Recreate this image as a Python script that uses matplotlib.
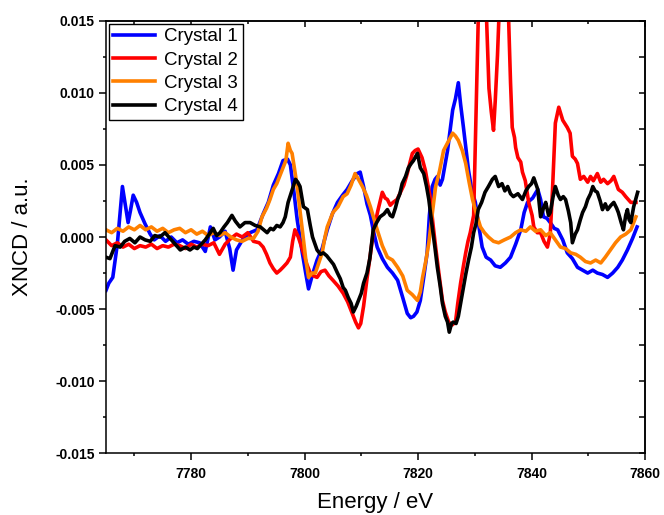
import numpy as np
import matplotlib
matplotlib.use("Agg")
import matplotlib.pyplot as plt
from matplotlib.ticker import MultipleLocator, FormatStrFormatter

plt.rcParams['font.family'] = ['Liberation Sans', 'DejaVu Sans']

# XNCD values are stored in units of 1e-3
c1_e = [7765, 7765.5, 7766.2, 7767, 7767.9, 7768.5, 7768.9, 7769.3, 7769.8, 7770.4,
        7771, 7771.9, 7772.8, 7773.5, 7774.5, 7775.5, 7776.5, 7777.5, 7778.5, 7779.5,
        7780.5, 7781.5, 7782.5, 7783.4, 7784.2, 7785, 7786, 7786.8, 7787.4, 7788,
        7789.2, 7790.4, 7791.6, 7792.7, 7793.6, 7794.5, 7795.4, 7796.2, 7797, 7797.5,
        7798.1, 7798.7, 7799.6, 7800.2, 7800.7, 7801.4, 7802.2, 7803.1, 7804, 7804.9,
        7805.8, 7806.7, 7807.5, 7808.4, 7809.3, 7809.8, 7810.4, 7811, 7811.6, 7812.2,
        7812.8, 7813.7, 7814.6, 7815.5, 7816.4, 7817.3, 7818.1, 7818.7, 7819.2, 7819.8,
        7820.4, 7821, 7821.6, 7822, 7822.5, 7823, 7823.4, 7823.9, 7824.3, 7825.2,
        7826.1, 7826.6, 7827.1, 7827.5, 7828, 7828.9, 7829.5, 7830.1, 7830.7, 7831.3,
        7832, 7832.8, 7833.6, 7834.5, 7835.4, 7836.3, 7837.2, 7838.1, 7838.7, 7839.3,
        7840.2, 7841.1, 7841.6, 7842.1, 7842.7, 7843.3, 7844, 7844.6, 7845.5, 7846.3,
        7847.2, 7848.1, 7849, 7849.9, 7850.8, 7851.6, 7852.5, 7853.4, 7854.3, 7855.2,
        7856, 7856.9, 7857.8, 7858.6]
c1_v = [-3.7, -3.2, -2.8, -0.5, 3.5, 2.0, 1.0, 1.8, 2.9, 2.4,
        1.7, 0.9, 0.2, -0.2, 0.1, -0.3, 0.0, -0.4, -0.2, -0.5,
        -0.3, -0.4, -1.0, 0.7, -0.2, 0.0, 0.4, -0.8, -2.3, -0.9,
        -0.1, 0.3, 0.5, 1.6, 2.4, 3.6, 4.4, 5.3, 5.4, 5.0,
        3.2, 1.2, -1.1, -2.5, -3.6, -2.6, -1.6, -0.8, 0.5, 1.6,
        2.4, 2.9, 3.3, 3.9, 4.4, 4.5, 3.5, 2.3, 1.5, 0.3,
        -0.7, -1.5, -2.1, -2.5, -3.0, -4.2, -5.3, -5.6, -5.5, -5.2,
        -4.4, -2.8, -1.1, 1.5, 3.5, 4.0, 4.2, 3.6, 4.0, 6.0,
        8.8, 9.6, 10.7, 9.2, 7.6, 4.6, 3.2, 2.4, 0.8, -0.7,
        -1.4, -1.6, -2.0, -2.1, -1.8, -1.4, -0.5, 0.5, 1.7, 2.4,
        2.7, 3.3, 2.6, 1.4, 1.3, 1.0, 0.6, 0.5, -0.2, -1.1,
        -1.5, -2.1, -2.3, -2.5, -2.3, -2.5, -2.6, -2.8, -2.5, -2.1,
        -1.6, -0.9, -0.1, 0.7]

c2_e = [7765, 7766, 7767, 7768, 7769, 7770, 7771, 7772, 7773, 7774,
        7775, 7776, 7777, 7778, 7779, 7780, 7781, 7782, 7783, 7784,
        7785, 7786, 7787, 7788, 7789, 7790, 7791, 7792, 7792.7, 7793.3,
        7793.9, 7794.5, 7795.1, 7795.7, 7796.2, 7796.9, 7797.5, 7797.9, 7798.3, 7798.9,
        7799.4, 7799.8, 7800.4, 7801, 7801.6, 7802.2, 7802.9, 7803.6, 7804.3, 7805,
        7805.9, 7806.8, 7807.6, 7808.4, 7809, 7809.5, 7809.9, 7810.4, 7811, 7811.6,
        7812.1, 7812.9, 7813.7, 7814.2, 7814.6, 7815.1, 7815.6, 7816.3, 7816.9, 7817.5,
        7818.1, 7818.6, 7819, 7819.5, 7820, 7820.7, 7821.3, 7822.2, 7822.6, 7823.1,
        7823.7, 7824.3, 7824.8, 7825.4, 7826, 7826.6, 7827, 7827.5, 7828, 7828.4,
        7828.8, 7829.2, 7829.8, 7831.2, 7832.5, 7832.9, 7833.3, 7833.6, 7834.0, 7835.2,
        7836.3, 7836.6, 7837.0, 7837.2, 7837.6, 7838.1, 7838.4, 7838.9, 7839.5, 7840.1,
        7840.4, 7841, 7841.6, 7842.2, 7842.8, 7843.3, 7843.7, 7844.2, 7844.8, 7845.5,
        7846.3, 7846.8, 7847.2, 7847.7, 7848.1, 7848.6, 7849.2, 7849.9, 7850.4, 7850.9,
        7851.6, 7852.2, 7852.7, 7853.4, 7854, 7854.5, 7855.3, 7856, 7856.6, 7857.5,
        7858.4]
c2_v = [-0.2, -0.6, -0.4, -0.7, -0.5, -0.8, -0.6, -0.7, -0.5, -0.8,
        -0.6, -0.7, -0.5, -0.6, -0.8, -0.5, -0.7, -0.5, -0.6, -0.4,
        -1.2, -0.5, -0.1, 0.2, 0.0, 0.3, -0.3, -0.4, -0.7, -1.2,
        -1.8, -2.2, -2.5, -2.3, -2.1, -1.8, -1.4, -0.3, 0.5, 0.0,
        -0.6, -1.1, -1.9, -2.5, -2.7, -2.8, -2.4, -2.3, -2.7, -3.0,
        -3.4, -3.9, -4.5, -5.3, -5.9, -6.3, -6.0, -4.8, -2.9, -1.2,
        0.3, 1.8, 3.1, 2.7, 2.6, 2.2, 2.4, 2.6, 3.1, 3.6,
        4.4, 5.2, 5.8, 6.0, 6.1, 5.5, 4.6, 2.6, 1.0, -0.7,
        -2.6, -4.4, -5.2, -5.9, -6.1, -5.9, -4.6, -3.2, -2.0, -1.1,
        -0.3, 0.3, 1.5, 25.0, 10.3, 8.7, 7.4, 9.4, 12.6, 25.0,
        10.7, 7.6, 6.9, 6.2, 5.5, 5.2, 4.5, 3.9, 2.4, 1.5,
        0.7, 0.3, 0.3, -0.3, -0.7, 0.2, 3.3, 7.9, 9.0, 8.1,
        7.6, 7.2, 5.6, 5.4, 5.1, 4.0, 4.2, 3.8, 4.2, 3.9,
        4.4, 3.8, 4.0, 3.7, 3.9, 4.2, 3.3, 3.1, 2.8, 2.4,
        2.4]

c3_e = [7765, 7766, 7767, 7768, 7769, 7770, 7771, 7772, 7773, 7774,
        7775, 7776, 7777, 7778, 7779, 7780, 7781, 7782, 7783, 7784,
        7785, 7786, 7787, 7788, 7789, 7790, 7791, 7791.8, 7792.5, 7793.3,
        7793.9, 7794.5, 7795.1, 7795.7, 7796.2, 7796.7, 7797.1, 7797.5, 7797.8, 7798.2,
        7798.7, 7799.2, 7799.6, 7800.2, 7800.7, 7801.3, 7801.9, 7802.5, 7803.1, 7803.6,
        7804, 7804.5, 7805, 7805.9, 7806.8, 7807.5, 7808.2, 7808.9, 7809.5, 7810.2,
        7810.9, 7811.6, 7812.2, 7812.8, 7813.7, 7814.6, 7815.5, 7816.4, 7817.3, 7818.1,
        7819, 7819.9, 7820.4, 7820.8, 7821.4, 7821.9, 7822.5, 7823.1, 7823.8, 7824.5,
        7825.3, 7826.1, 7826.6, 7827.1, 7827.8, 7828.4, 7829, 7829.6, 7830.3, 7831,
        7831.7, 7832.4, 7833.3, 7834.2, 7835.2, 7836.3, 7837.2, 7838.1, 7839, 7839.8,
        7840.7, 7841.6, 7842.5, 7843.3, 7844.2, 7845.1, 7846, 7846.9, 7847.8, 7848.6,
        7849.5, 7850.4, 7851.3, 7852.2, 7853, 7853.9, 7854.8, 7855.7, 7856.6, 7857.5,
        7858.4]
c3_v = [0.5, 0.3, 0.6, 0.4, 0.7, 0.5, 0.8, 0.5, 0.7, 0.4,
        0.6, 0.3, 0.5, 0.6, 0.3, 0.5, 0.2, 0.4, 0.1, 0.3,
        0.1, 0.3, 0.0, -0.2, -0.3, -0.1, -0.1, 0.4, 1.4, 2.0,
        2.6, 3.3, 3.7, 4.3, 4.8, 5.3, 6.5, 6.0, 5.8, 4.8,
        3.5, 1.8, 0.5, -1.5, -2.8, -2.5, -2.5, -1.8, -1.1, 0.0,
        0.7, 1.2, 1.7, 2.1, 2.8, 3.0, 3.6, 4.4, 4.0, 3.5,
        2.9, 2.1, 1.3, 0.5, -0.6, -1.4, -1.6, -2.1, -2.7, -3.7,
        -4.0, -4.4, -3.8, -2.8, -1.6, -0.4, 1.6, 3.5, 4.6, 6.0,
        6.6, 7.2, 7.0, 6.7, 6.0, 5.1, 3.8, 2.6, 1.6, 0.7,
        0.3, 0.0, -0.3, -0.4, -0.2, 0.0, 0.3, 0.5, 0.4, 0.7,
        0.4, 0.5, 0.1, 0.3, -0.2, -0.7, -0.8, -1.1, -1.2, -1.4,
        -1.7, -1.8, -1.6, -1.8, -1.4, -0.9, -0.4, 0.0, 0.2, 0.5,
        1.4]

c4_e = [7765, 7765.7, 7766.6, 7767.5, 7768.3, 7769.2, 7770.1, 7771, 7771.9, 7772.8,
        7773.6, 7774.5, 7775.4, 7776.3, 7777.2, 7778.1, 7779, 7779.8, 7780.5, 7781.1,
        7781.8, 7782.5, 7783.2, 7783.9, 7784.5, 7785.1, 7785.8, 7786.4, 7787.2, 7787.8,
        7788.6, 7789.5, 7790.4, 7791.3, 7792.2, 7792.8, 7793.4, 7794, 7794.5, 7795.1,
        7795.7, 7796.2, 7796.6, 7797.1, 7797.6, 7798, 7798.4, 7798.8, 7799.2, 7799.8,
        7800.5, 7801, 7801.4, 7802.2, 7802.8, 7803.3, 7803.9, 7804.5, 7805.1, 7805.8,
        7806.3, 7806.8, 7807.2, 7807.7, 7808.2, 7808.6, 7809.1, 7809.5, 7810, 7810.4,
        7811, 7811.5, 7812.1, 7812.7, 7813.3, 7814, 7814.6, 7815.1, 7815.5, 7816,
        7816.4, 7816.8, 7817.2, 7817.8, 7818.3, 7818.8, 7819.2, 7819.6, 7819.9, 7820.4,
        7821, 7821.5, 7821.9, 7822.5, 7823, 7823.4, 7823.9, 7824.3, 7824.8, 7825.2,
        7825.5, 7825.9, 7826.2, 7826.7, 7827.1, 7827.5, 7828, 7828.4, 7828.9, 7829.4,
        7829.8, 7830.2, 7830.6, 7831.2, 7831.8, 7832.4, 7833.1, 7833.6, 7834.2, 7834.8,
        7835.3, 7835.8, 7836.3, 7836.8, 7837.6, 7838.4, 7839, 7839.5, 7840, 7840.4,
        7841.1, 7841.6, 7842.1, 7842.5, 7843, 7843.3, 7843.8, 7844.2, 7844.7, 7845.1,
        7845.6, 7846, 7846.5, 7846.9, 7847.2, 7847.7, 7848.1, 7848.6, 7849, 7849.5,
        7849.9, 7850.4, 7850.8, 7851.2, 7851.6, 7852.1, 7852.5, 7853, 7853.4, 7854,
        7854.5, 7855, 7855.3, 7855.8, 7856.2, 7856.6, 7856.9, 7857.2, 7857.5, 7858,
        7858.7]
c4_v = [-1.4, -1.5, -0.6, -0.7, -0.3, -0.1, -0.4, 0.0, -0.2, -0.3,
        0.1, 0.0, 0.3, -0.1, -0.5, -0.9, -0.7, -0.9, -0.7, -0.8,
        -0.5, -0.2, 0.2, 0.6, 0.1, 0.3, 0.7, 1.0, 1.5, 1.1,
        0.7, 1.0, 1.0, 0.8, 0.7, 0.5, 0.3, 0.6, 0.5, 0.8,
        0.7, 1.0, 1.4, 2.4, 3.0, 3.5, 4.0, 3.8, 3.5, 2.1,
        1.9, 0.8, 0.0, -0.9, -1.2, -1.1, -1.3, -1.6, -1.9, -2.5,
        -2.9, -3.5, -3.7, -4.2, -4.6, -5.2, -4.8, -4.4, -3.9, -3.2,
        -2.5, -1.5, 0.5, 1.0, 1.4, 1.6, 1.9, 1.5, 1.4, 2.0,
        2.6, 3.0, 3.7, 4.2, 4.8, 5.1, 5.3, 5.6, 5.8, 4.8,
        4.4, 3.5, 2.6, 0.7, -0.8, -2.1, -3.4, -4.6, -5.5, -5.9,
        -6.6, -6.0, -5.9, -6.0, -5.5, -4.6, -3.5, -2.6, -1.6, -0.7,
        0.3, 0.9, 1.9, 2.4, 3.1, 3.5, 4.0, 4.2, 3.5, 3.7,
        3.2, 3.5, 3.0, 2.8, 3.0, 2.6, 3.2, 3.5, 3.7, 4.1,
        3.3, 1.4, 2.0, 2.4, 1.5, 1.7, 2.8, 3.5, 2.9, 2.6,
        2.8, 2.6, 1.8, 1.0, -0.4, 0.2, 0.5, 1.2, 1.7, 2.1,
        2.6, 3.0, 3.5, 3.2, 3.1, 2.5, 1.9, 2.3, 1.9, 2.2,
        2.4, 2.0, 1.7, 1.0, 0.5, 1.5, 1.9, 1.2, 1.0, 2.1,
        3.1]

series = [
    ("Crystal 1", c1_e, c1_v, "#0000ff"),
    ("Crystal 2", c2_e, c2_v, "#ff0000"),
    ("Crystal 3", c3_e, c3_v, "#ff8000"),
    ("Crystal 4", c4_e, c4_v, "#000000"),
]

fig = plt.figure(figsize=(6.64, 5.15), dpi=100)
ax = fig.add_axes([0.1596, 0.1198, 0.8118, 0.84])

for label, e, v, color in series:
    ax.plot(e, np.array(v) * 1e-3, color=color, lw=2.6, label=label)

ax.set_xlim(7765, 7860)
ax.set_ylim(-0.015, 0.015)
ax.xaxis.set_major_locator(MultipleLocator(20))
ax.xaxis.set_minor_locator(MultipleLocator(10))
ax.yaxis.set_major_locator(MultipleLocator(0.005))
ax.yaxis.set_minor_locator(MultipleLocator(0.0025))
ax.yaxis.set_major_formatter(FormatStrFormatter('%.3f'))

ax.tick_params(which='major', direction='out', length=5, width=1.1, pad=3)
ax.tick_params(which='minor', direction='out', length=2.5, width=1.1)
ax.tick_params(axis='x', which='major', pad=5)
for lab in ax.get_xticklabels() + ax.get_yticklabels():
    lab.set_fontweight('bold')
    lab.set_fontsize(10)
for sp in ax.spines.values():
    sp.set_linewidth(1.1)

top = ax.secondary_xaxis('top')
top.xaxis.set_major_locator(MultipleLocator(20))
top.xaxis.set_minor_locator(MultipleLocator(10))
top.tick_params(which='major', direction='in', length=4.5, width=1.1, labeltop=False)
top.tick_params(which='minor', direction='in', length=2.5, width=1.1)
top.spines['top'].set_linewidth(1.1)

right = ax.secondary_yaxis('right')
right.yaxis.set_major_locator(MultipleLocator(0.005))
right.yaxis.set_minor_locator(MultipleLocator(0.0025))
right.tick_params(which='both', direction='in', length=4.5, width=1.1, labelright=False)
right.spines['right'].set_linewidth(1.1)

ax.set_xlabel("Energy / eV", fontsize=16, labelpad=8)
ax.set_ylabel("XNCD / a.u.", fontsize=16, labelpad=16)

leg = ax.legend(loc='upper left', bbox_to_anchor=(0.0, 1.0), borderaxespad=0.15,
                fontsize=13.5, handlelength=2.2, handletextpad=0.5,
                labelspacing=0.33, borderpad=0.25, fancybox=False, framealpha=1)
leg.get_frame().set_edgecolor('black')
leg.get_frame().set_linewidth(1.0)

fig.savefig("out.png", dpi=100)
